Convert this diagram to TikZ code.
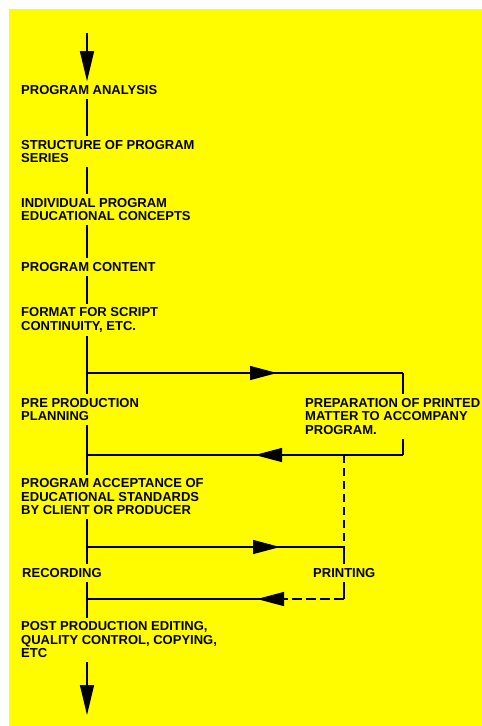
\documentclass[tikz,border=0pt]{standalone}
\usepackage{fontspec}
\setmainfont{Liberation Sans}
\usetikzlibrary{arrows.meta,decorations.markings}
\definecolor{bgyellow}{RGB}{255,252,0}
\begin{document}
\begin{tikzpicture}[x=1pt,y=-1pt,
  lbl/.style={anchor=west,align=left,inner xsep=0pt,inner ysep=4pt,
    font=\bfseries\fontsize{13}{13.5}\selectfont},
  conn/.style={line width=1.3pt},
  tipend/.style={-{Triangle[length=30pt,width=14pt]}},
  midarrow/.style={postaction={decorate,decoration={markings,
    mark=at position #1 with {\arrow{Triangle[length=27pt,width=14pt]}}}}}]
\useasboundingbox (0,0) rectangle (482,726);
\fill[white] (0,0) rectangle (482,726);
\fill[bgyellow] (9,9) rectangle (482,726);

% text nodes
\node[lbl] (pa) at (21,90) {PROGRAM ANALYSIS};
\node[lbl] (sps) at (21,151.5) {STRUCTURE OF PROGRAM\\SERIES};
\node[lbl] (ipec) at (21,209.5) {INDIVIDUAL PROGRAM\\EDUCATIONAL CONCEPTS};
\node[lbl] (pc) at (21,267) {PROGRAM CONTENT};
\node[lbl] (fsc) at (21,320) {FORMAT FOR SCRIPT\\CONTINUITY, ETC.};
\node[lbl] (ppp) at (21,409.5) {PRE PRODUCTION\\PLANNING};
\node[lbl] (prep) at (305,416.5) {PREPARATION OF PRINTED\\MATTER TO ACCOMPANY\\PROGRAM.};
\node[lbl] (pae) at (21,497) {PROGRAM ACCEPTANCE OF\\EDUCATIONAL STANDARDS\\BY CLIENT OR PRODUCER};
\node[lbl] (rec) at (22,573) {RECORDING};
\node[lbl] (prt) at (313,573) {PRINTING};
\node[lbl] (post) at (21,640) {POST PRODUCTION EDITING,\\QUALITY CONTROL, COPYING,\\ETC};

% reference columns and junctions
\coordinate (sp) at (87,0);
\coordinate (rc) at (403,0);
\coordinate (dc) at (344,0);
\coordinate (start) at (87,33);
\coordinate (j1) at (87,373);
\coordinate (c1) at (403,373);
\coordinate (c2) at (403,455);
\coordinate (j2) at (87,455);
\coordinate (d1) at (344,455);
\coordinate (d2) at (344,547);
\coordinate (j3) at (87,547);
\coordinate (c3) at (344,599);
\coordinate (d4) at (283,599);
\coordinate (j4) at (87,599);
\coordinate (finish) at (87,715);

% main spine
\draw[conn,tipend] (start) -- (pa.north -| sp);
\draw[conn] (pa.south -| sp) -- (sps.north -| sp);
\draw[conn] (sps.south -| sp) -- (ipec.north -| sp);
\draw[conn] (ipec.south -| sp) -- (pc.north -| sp);
\draw[conn] (pc.south -| sp) -- (fsc.north -| sp);
\draw[conn] (fsc.south -| sp) -- (j1) -- (ppp.north -| sp);
\draw[conn] (ppp.south -| sp) -- (j2) -- (pae.north -| sp);
\draw[conn] (pae.south -| sp) -- (j3) -- (rec.north -| sp);
\draw[conn] (rec.south -| sp) -- (post.north -| sp);
\draw[conn,tipend] (post.south -| sp) -- (finish);

% printed matter loop
\draw[conn,midarrow=190pt] (j1) -- (c1);
\draw[conn] (c1) -- (prep.north -| rc);
\draw[conn] (prep.south -| rc) -- (c2);
\draw[conn,midarrow=148pt] (c2) -- (j2);

% printing loop
\draw[conn,dash pattern=on 8pt off 5pt] (d1) -- (d2);
\draw[conn,midarrow=193pt] (j3) -- (d2);
\draw[conn] (d2) -- (prt.north -| dc);
\draw[conn] (prt.south -| dc) -- (c3);
\draw[conn,dash pattern=on 10pt off 4pt] (c3) -- (d4);
\draw[conn,midarrow=26pt] (d4) -- (j4);
\end{tikzpicture}
\end{document}
